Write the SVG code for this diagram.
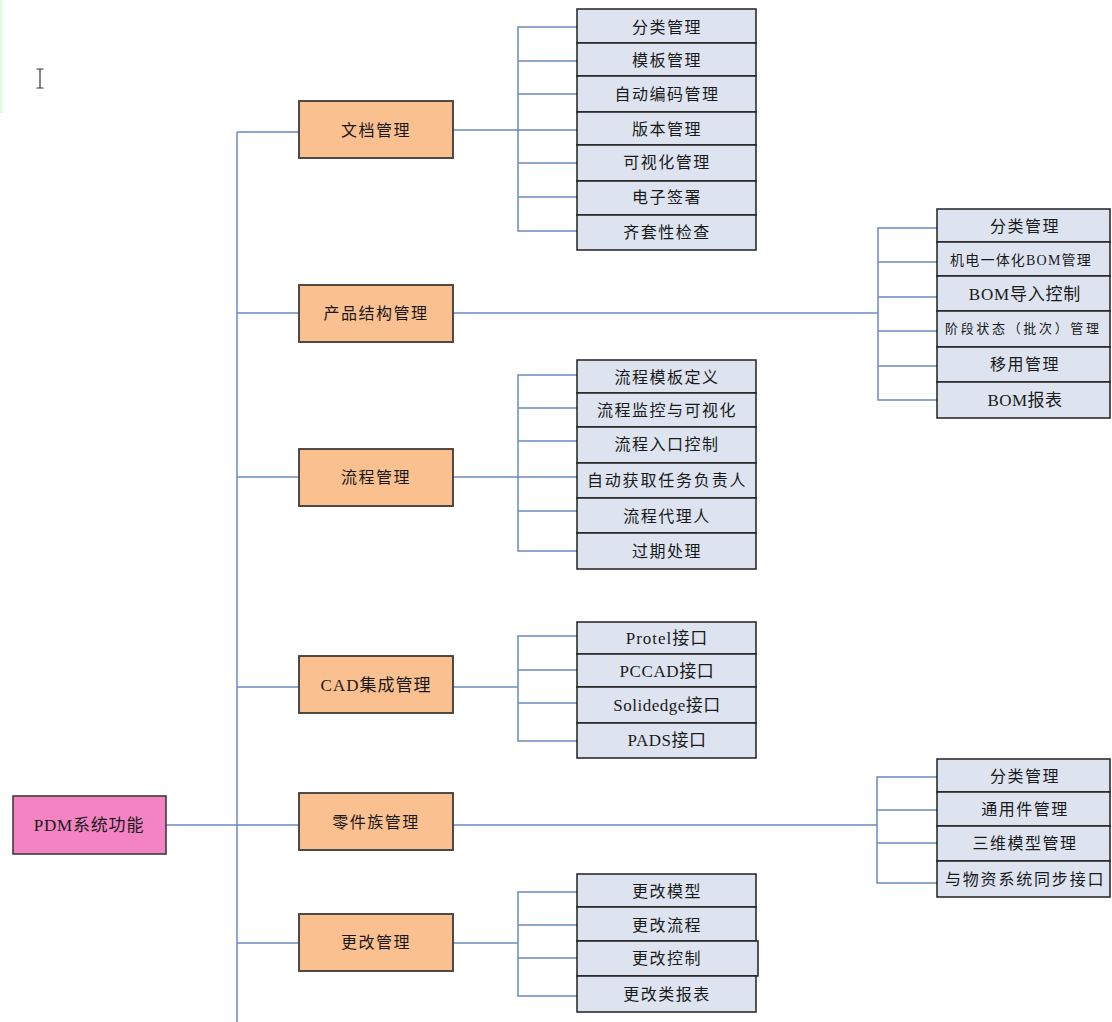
<svg xmlns="http://www.w3.org/2000/svg" width="1112" height="1022" viewBox="0 0 1112 1022">
  <style>
    text { font-family: "Liberation Serif", "Noto Sans CJK SC", serif; fill: #1a1a1a; text-anchor: middle; dominant-baseline: central; }
    .root rect { fill: #f483c3; stroke: #3c3c3c; stroke-width: 1.6; }
    .l1 rect { fill: #fac090; stroke: #3e3a36; stroke-width: 1.8; }
    .l2 rect { fill: #dde4f0; stroke: #202020; stroke-width: 1.5; }
    .t1 { font-size: 16px; letter-spacing: 1.5px; }
    .t2 { font-size: 16px; letter-spacing: 1.5px; }
    .mix { font-size: 17px; letter-spacing: 0.6px; }
    .small { font-size: 13px; }
    #connectors path { fill: none; stroke: #6a8bc2; stroke-width: 1.5; }
  </style>

  <!-- side strip and text cursor -->
  <rect x="0" y="0" width="3" height="113" fill="#e2fde2"/>
  <g stroke="#333" stroke-width="1.2" fill="none">
    <path d="M40 69 V88 M36.5 69 H43.5 M36.5 88 H43.5"/>
  </g>

  <g id="connectors">
    <!-- root to trunk -->
    <path d="M166 825 H237"/>
    <path d="M237 132 V1022"/>
    <path d="M237 132 H299 M237 313 H299 M237 477 H299 M237 687 H299 M237 825 H299 M237 943 H299"/>
    <!-- 文档管理 -->
    <path d="M453 130 H518"/>
    <path d="M577 27 H518 V231 H577 M518 61 H577 M518 94 H577 M518 130 H577 M518 163 H577 M518 197 H577"/>
    <!-- 产品结构管理 -->
    <path d="M453 313 H878"/>
    <path d="M937 228 H878 V400 H937 M878 262 H937 M878 297 H937 M878 331 H937 M878 366 H937"/>
    <!-- 流程管理 -->
    <path d="M453 477 H518"/>
    <path d="M577 375 H518 V551 H577 M518 408 H577 M518 441 H577 M518 477 H577 M518 511 H577"/>
    <!-- CAD集成管理 -->
    <path d="M453 687 H518"/>
    <path d="M577 636 H518 V741 H577 M518 670 H577 M518 703 H577"/>
    <!-- 零件族管理 -->
    <path d="M453 825 H877"/>
    <path d="M937 777 H877 V883 H937 M877 810 H937 M877 843 H937"/>
    <!-- 更改管理 -->
    <path d="M453 943 H518"/>
    <path d="M577 892 H518 V996 H577 M518 925 H577 M518 958 H577"/>
  </g>

  <!-- root -->
  <g id="pdm" class="root">
    <rect x="13" y="796" width="153" height="58"/>
    <text x="89" y="825" style="font-size:17px;letter-spacing:0.8px">PDM系统功能</text>
  </g>

  <!-- first level -->
  <g id="doc" class="l1">
    <rect x="299" y="101" width="154" height="57"/>
    <text x="376" y="130" class="t1">文档管理</text>
  </g>
  <g id="product" class="l1">
    <rect x="299" y="285" width="154" height="57"/>
    <text x="376" y="313" class="t1">产品结构管理</text>
  </g>
  <g id="flow" class="l1">
    <rect x="299" y="449" width="154" height="57"/>
    <text x="376" y="477" class="t1">流程管理</text>
  </g>
  <g id="cad" class="l1">
    <rect x="299" y="656" width="154" height="57"/>
    <text x="376" y="685" class="mix" style="letter-spacing:1px">CAD集成管理</text>
  </g>
  <g id="parts" class="l1">
    <rect x="299" y="793" width="154" height="57"/>
    <text x="376" y="822" class="t1">零件族管理</text>
  </g>
  <g id="change" class="l1">
    <rect x="299" y="914" width="154" height="57"/>
    <text x="376" y="942" class="t1">更改管理</text>
  </g>

  <!-- 文档管理 items -->
  <g id="doc-1" class="l2"><rect x="577" y="9" width="179" height="34"/><text x="667" y="27" class="t2">分类管理</text></g>
  <g id="doc-2" class="l2"><rect x="577" y="43" width="179" height="33"/><text x="667" y="60" class="t2">模板管理</text></g>
  <g id="doc-3" class="l2"><rect x="577" y="76" width="179" height="36"/><text x="667" y="94" class="t2">自动编码管理</text></g>
  <g id="doc-4" class="l2"><rect x="577" y="112" width="179" height="33"/><text x="667" y="129" class="t2">版本管理</text></g>
  <g id="doc-5" class="l2"><rect x="577" y="145" width="179" height="36"/><text x="667" y="162" class="t2">可视化管理</text></g>
  <g id="doc-6" class="l2"><rect x="577" y="181" width="179" height="34"/><text x="667" y="197" class="t2">电子签署</text></g>
  <g id="doc-7" class="l2"><rect x="577" y="215" width="179" height="35"/><text x="667" y="232" class="t2">齐套性检查</text></g>

  <!-- 产品结构管理 items -->
  <g id="prod-1" class="l2"><rect x="937" y="209" width="173" height="33"/><text x="1025" y="226" class="t2">分类管理</text></g>
  <g id="prod-2" class="l2"><rect x="937" y="242" width="173" height="34"/><text x="1021" y="260" style="font-size:14px;letter-spacing:1.2px">机电一体化BOM管理</text></g>
  <g id="prod-3" class="l2"><rect x="937" y="276" width="173" height="35"/><text x="1025" y="294" class="mix" style="letter-spacing:0.8px">BOM导入控制</text></g>
  <g id="prod-4" class="l2"><rect x="937" y="311" width="173" height="36"/><text x="1022" y="328" class="small" textLength="154" lengthAdjust="spacing">阶段状态（批次）管理</text></g>
  <g id="prod-5" class="l2"><rect x="937" y="347" width="173" height="35"/><text x="1025" y="364" class="t2">移用管理</text></g>
  <g id="prod-6" class="l2"><rect x="937" y="382" width="173" height="36"/><text x="1025" y="400" class="mix" style="letter-spacing:0.5px">BOM报表</text></g>

  <!-- 流程管理 items -->
  <g id="flow-1" class="l2"><rect x="577" y="360" width="179" height="33"/><text x="667" y="377" class="t2">流程模板定义</text></g>
  <g id="flow-2" class="l2"><rect x="577" y="393" width="179" height="34"/><text x="667" y="410" class="t2">流程监控与可视化</text></g>
  <g id="flow-3" class="l2"><rect x="577" y="427" width="179" height="36"/><text x="667" y="444" class="t2">流程入口控制</text></g>
  <g id="flow-4" class="l2"><rect x="577" y="463" width="179" height="35"/><text x="667" y="480" class="t2" textLength="160" lengthAdjust="spacing">自动获取任务负责人</text></g>
  <g id="flow-5" class="l2"><rect x="577" y="498" width="179" height="35"/><text x="667" y="516" class="t2">流程代理人</text></g>
  <g id="flow-6" class="l2"><rect x="577" y="533" width="179" height="36"/><text x="667" y="551" class="t2">过期处理</text></g>

  <!-- CAD集成管理 items -->
  <g id="cad-1" class="l2"><rect x="577" y="622" width="179" height="32"/><text x="667" y="638" class="mix" style="letter-spacing:1px">Protel接口</text></g>
  <g id="cad-2" class="l2"><rect x="577" y="654" width="179" height="33"/><text x="667" y="671" class="mix">PCCAD接口</text></g>
  <g id="cad-3" class="l2"><rect x="577" y="687" width="179" height="36"/><text x="667" y="705" class="mix" style="letter-spacing:0.5px">Solidedge接口</text></g>
  <g id="cad-4" class="l2"><rect x="577" y="723" width="179" height="35"/><text x="667" y="740" class="mix" style="letter-spacing:0.5px">PADS接口</text></g>

  <!-- 零件族管理 items -->
  <g id="parts-1" class="l2"><rect x="937" y="759" width="173" height="33"/><text x="1025" y="776" class="t2">分类管理</text></g>
  <g id="parts-2" class="l2"><rect x="937" y="792" width="173" height="34"/><text x="1025" y="809" class="t2">通用件管理</text></g>
  <g id="parts-3" class="l2"><rect x="937" y="826" width="173" height="35"/><text x="1025" y="843" class="t2">三维模型管理</text></g>
  <g id="parts-4" class="l2"><rect x="937" y="861" width="173" height="36"/><text x="1025" y="879" class="t2" textLength="160" lengthAdjust="spacing">与物资系统同步接口</text></g>

  <!-- 更改管理 items -->
  <g id="change-1" class="l2"><rect x="577" y="874" width="179" height="33"/><text x="667" y="891" class="t2">更改模型</text></g>
  <g id="change-2" class="l2"><rect x="577" y="907" width="179" height="34"/><text x="667" y="925" class="t2">更改流程</text></g>
  <g id="change-3" class="l2"><rect x="577" y="941" width="181" height="35"/><text x="667" y="958" class="t2">更改控制</text></g>
  <g id="change-4" class="l2"><rect x="577" y="976" width="179" height="36"/><text x="667" y="994" class="t2">更改类报表</text></g>
</svg>
